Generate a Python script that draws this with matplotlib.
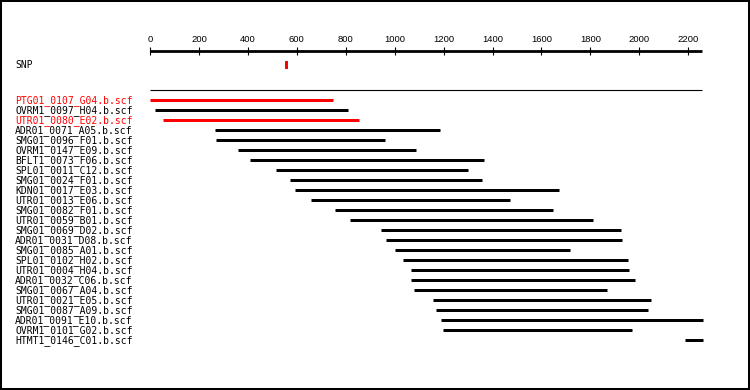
import matplotlib
matplotlib.use("Agg")
import matplotlib.pyplot as plt
from matplotlib.transforms import blended_transform_factory

# reads aligned against the reference sequence
names = ["PTG01_0107_G04.b.scf", "OVRM1_0097_H04.b.scf", "UTR01_0080_E02.b.scf",
         "ADR01_0071_A05.b.scf", "SMG01_0096_F01.b.scf", "OVRM1_0147_E09.b.scf",
         "BFLT1_0073_F06.b.scf", "SPL01_0011_C12.b.scf", "SMG01_0024_F01.b.scf",
         "KDN01_0017_E03.b.scf", "UTR01_0013_E06.b.scf", "SMG01_0082_F01.b.scf",
         "UTR01_0059_B01.b.scf", "SMG01_0069_D02.b.scf", "ADR01_0031_D08.b.scf",
         "SMG01_0085_A01.b.scf", "SPL01_0102_H02.b.scf", "UTR01_0004_H04.b.scf",
         "ADR01_0032_C06.b.scf", "SMG01_0067_A04.b.scf", "UTR01_0021_E05.b.scf",
         "SMG01_0087_A09.b.scf", "ADR01_0091_E10.b.scf", "OVRM1_0101_G02.b.scf",
         "HTMT1_0146_C01.b.scf"]
starts = [0, 20, 53, 266, 270, 360, 409, 515, 573, 593, 658, 757,
          818, 945, 965, 1002, 1035, 1067, 1067, 1080, 1157, 1170, 1190, 1198, 2188]
ends = [747, 810, 855, 1186, 961, 1087, 1366, 1301, 1358, 1673, 1472, 1648,
        1811, 1925, 1929, 1718, 1955, 1959, 1984, 1869, 2049, 2037, 2262, 1971, 2262]
highlight = ["PTG01_0107_G04.b.scf", "UTR01_0080_E02.b.scf"]

snp_pos = 557
seq_len = 2254
ticks = [0, 200, 400, 600, 800, 1000, 1200, 1400, 1600, 1800, 2000, 2200]

fig = plt.figure(figsize=(7.5, 3.9), dpi=100)
ax = fig.add_axes([0, 0, 1, 1])
px = 0.24468  # pixels per base
ax.set_xlim(-150 / px, 600 / px)
ax.set_ylim(28.97, -10.03)  # one row = 10 px
ax.set_xticks([])
ax.set_yticks([])
for s in ax.spines.values():
    s.set_linewidth(2.9)
    s.set_color("black")

lbl = blended_transform_factory(ax.transAxes, ax.transData)

# ruler
ax.hlines(-4.93, 0, seq_len, color="black", linewidth=2.0, capstyle="butt")
ax.vlines(ticks, -5.3, -4.5, color="black", linewidth=0.8)
for t in ticks:
    ax.text(t, -6.03, str(t), ha="center", va="center", fontsize=6.8,
            family="Liberation Sans")

# SNP track
ax.text(0.02, -3.5, "SNP", transform=lbl, ha="left", va="center",
        fontsize=7.05, family="DejaVu Sans Mono")
ax.bar(snp_pos, 0.8, width=3 / px, bottom=-3.9, color="red", linewidth=0)

# reference line
ax.hlines(-1.0, 0, seq_len, color="black", linewidth=0.8)

for i, (n, a, b) in enumerate(zip(names, starts, ends)):
    c = "red" if n in highlight else "black"
    ax.hlines(i, a, b, color=c, linewidth=2.16, capstyle="butt")
    ax.text(0.02, i, n, transform=lbl, ha="left", va="center", color=c,
            fontsize=7.05, family="DejaVu Sans Mono")

fig.savefig("out.png", dpi=100)
